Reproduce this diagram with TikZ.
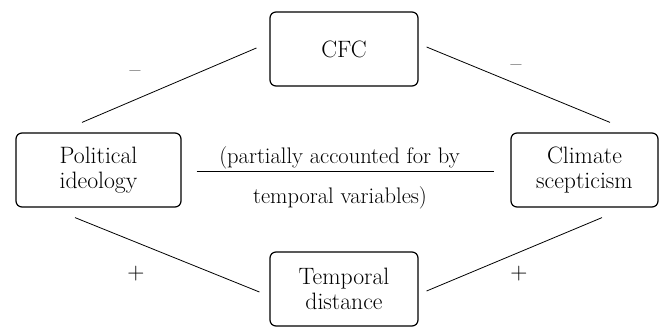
\documentclass[tikz,border=0pt]{standalone}
\usepackage{fontspec}
\usepackage{tikz}
\usepackage{xcolor}

\begin{document}
\begin{tikzpicture}[x=1pt,y=-1pt,
		caja/.style={draw, line width=1.2pt, rounded corners=6pt, minimum height=74pt, align=center, font=\fontsize{23.7}{25}\selectfont},
		linea/.style={line width=0.8pt},
		texto/.style={anchor=base, font=\fontsize{22.5}{24}\selectfont},
		signo/.style={anchor=base, font=\fontsize{23.7}{25}\selectfont}]
		\useasboundingbox (0,0) rectangle (665,327);

		%CAJAS
		\node[caja, minimum width=148pt] (cfc) at (344,49) {CFC};
		\node[caja, minimum width=165pt] (pol) at (98.5,170) {Political\\ideology};
		\node[caja, minimum width=147pt] (cli) at (584.5,170) {Climate\\scepticism};
		\node[caja, minimum width=148pt] (tem) at (344,289) {Temporal\\distance};

		%LINEAS
		\draw[linea] ([xshift=-16.5pt,yshift=10pt]pol.north) -- ([xshift=-13pt,yshift=1pt]cfc.west);
		\draw[linea] ([xshift=8pt,yshift=2pt]cfc.east) -- ([xshift=25.5pt,yshift=10pt]cli.north);
		\draw[linea] ([xshift=-23.5pt,yshift=-10pt]pol.south) -- ([xshift=-10pt,yshift=-3pt]tem.west);
		\draw[linea] ([xshift=8pt,yshift=-2pt]tem.east) -- ([xshift=17.5pt,yshift=-10pt]cli.south);
		\draw[linea] ([xshift=15pt,yshift=-1pt]pol.east) -- coordinate (mid) ([xshift=-16pt,yshift=-1pt]cli.west);

		%TEXTO
		\node[texto, xshift=-6pt, yshift=8pt] (nota1) at (mid) {(partially accounted for by};
		\node[texto, xshift=-5.5pt, yshift=-32pt] (nota2) at (mid) {temporal variables)};

		%SIGNOS
		\node[signo] (menos1) at (135,77) {--};
		\node[signo] (menos2) at (516,71) {--};
		\node[signo] (mas1) at (136,279) {+};
		\node[signo] (mas2) at (519,279) {+};
	\end{tikzpicture}
\end{document}
